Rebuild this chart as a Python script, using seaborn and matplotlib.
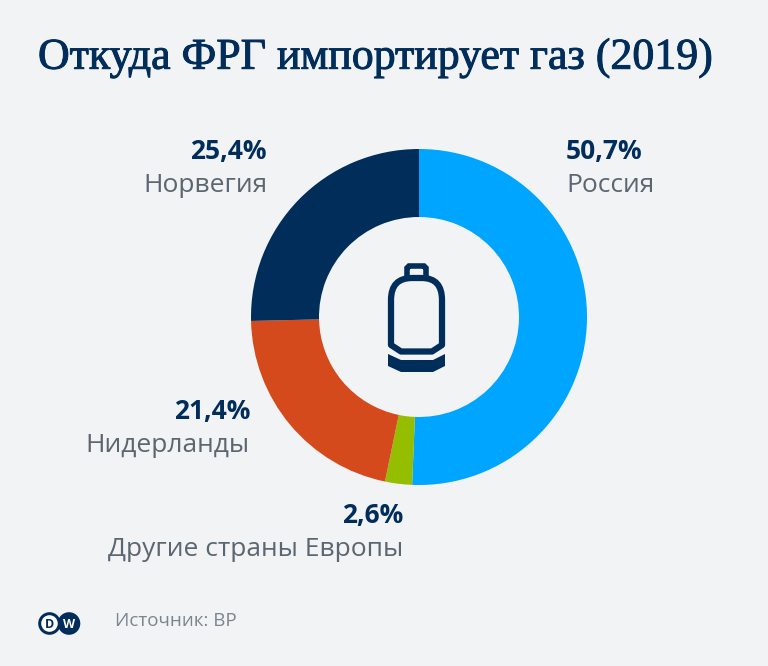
import matplotlib
matplotlib.use('Agg')
import matplotlib.pyplot as plt
import matplotlib.patheffects as pe
from matplotlib.patches import Circle, Polygon, PathPatch
from matplotlib.path import Path
import seaborn as sns

# Data
countries = ['Россия', 'Другие страны Европы', 'Нидерланды', 'Норвегия']
shares = [50.7, 2.6, 21.4, 25.4]
share_labels = ['50,7%', '2,6%', '21,4%', '25,4%']
colors = ['#00A5FF', '#96BE00', '#D44A1C', '#002D5A']

BG = '#F1F3F5'
NAVY = '#002D5A'
GREY = '#5B6670'
H = 666

sns.set_theme(style='white')
plt.rcParams['font.family'] = ['Open Sans', 'DejaVu Sans']

fig = plt.figure(figsize=(7.68, 6.66), dpi=100, facecolor=BG)
ax = fig.add_axes([0, 0, 1, 1])

# Donut, centre and radii in pixels
ax.pie(shares, colors=sns.color_palette(colors), startangle=90, counterclock=False,
       center=(419, H - 317), radius=168, wedgeprops={'width': 68, 'linewidth': 0})
ax.set_xlim(0, 768)
ax.set_ylim(0, H)
ax.set_aspect('equal')
ax.axis('off')

# Title, regular serif thickened with a thin stroke
title = ax.text(38, H - 58, 'Откуда ФРГ импортирует газ (2019)', family=['Liberation Serif', 'DejaVu Serif'],
                fontsize=31.6, color=NAVY, ha='left', va='center')
title.set_path_effects([pe.withStroke(linewidth=0.7, foreground=NAVY)])

# Labels: right edge or left edge in pixels
label_pos = [(566, 151, 'left'), (403, 515, 'right'), (250, 411, 'right'), (267, 151, 'right')]
for (x, y, ha), share, name in zip(label_pos, share_labels, countries):
    ax.text(x, H - y, share, fontsize=19, fontweight='bold', color=NAVY, ha=ha, va='center')
    ax.text(x, H - y - 35, name, fontsize=19, color=GREY, ha=ha, va='center')


def pts(coords):
    return [(x, H - y) for x, y in coords]


# Gas bottle icon
body = Path(pts([(391, 345), (391, 300), (391, 278), (412, 278), (422, 278), (442, 278),
                 (442, 300), (442, 345), (432, 351.5), (401, 351.5), (391, 345)]),
            [Path.MOVETO, Path.LINETO, Path.CURVE3, Path.CURVE3, Path.LINETO, Path.CURVE3, Path.CURVE3,
             Path.LINETO, Path.LINETO, Path.LINETO, Path.CLOSEPOLY])
ax.add_patch(PathPatch(body, facecolor='none', edgecolor=NAVY, lw=4.5, joinstyle='round'))
ax.add_patch(Polygon(pts([(407, 278), (407, 268), (409, 266), (424, 266), (426, 268), (426, 278)]),
                     closed=False, facecolor='none', edgecolor=NAVY, lw=4))
ax.add_patch(Polygon(pts([(388, 354), (401, 360), (433, 360), (445, 354), (445, 366), (433, 372),
                          (401, 372), (388, 366)]), facecolor=NAVY, edgecolor='none'))

# DW logo
ax.add_patch(Circle((69, H - 623.5), 11.3, facecolor=NAVY, edgecolor='none'))
ax.add_patch(Circle((49.5, H - 623.5), 11.3, facecolor=NAVY, edgecolor='none'))
ax.add_patch(Circle((49.5, H - 623.5), 8.3, facecolor='white', edgecolor='none'))
ax.text(49.5, H - 623.5, 'D', fontsize=9, fontweight='bold', color=NAVY, ha='center', va='center_baseline')
ax.text(69, H - 623.5, 'W', fontsize=9, fontweight='bold', color='white', ha='center', va='center_baseline')

# Source
ax.text(115, H - 621, 'Источник: BP', fontsize=13.5, color='#7A858E', ha='left', va='center')

fig.savefig('out.png', dpi=100, facecolor=BG)
